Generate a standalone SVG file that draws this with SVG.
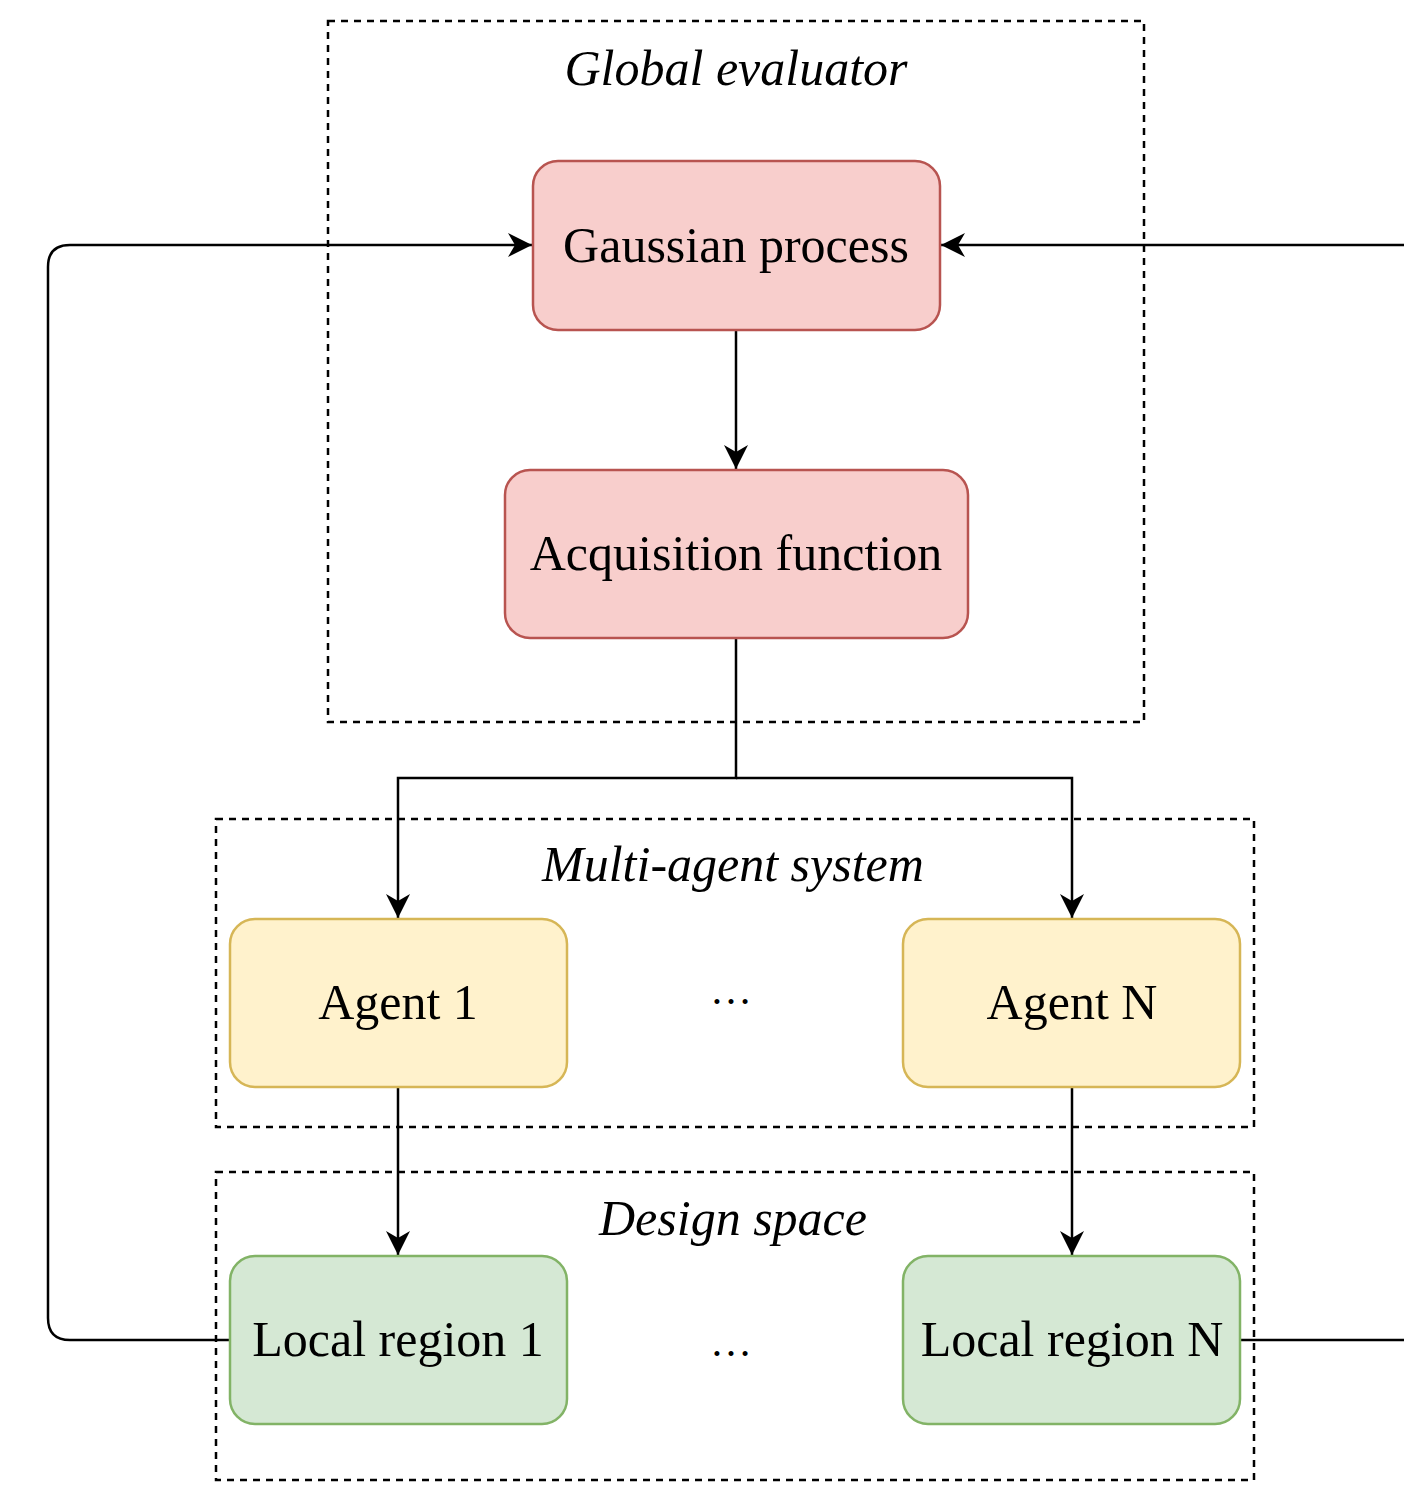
<svg xmlns="http://www.w3.org/2000/svg" width="1404" height="1486" viewBox="0 0 1404 1486">
<style>
.grp{fill:none;stroke:#000;stroke-width:2.5;stroke-dasharray:7 6}
.red{fill:#f8cecc;stroke:#b85450;stroke-width:2.5}
.yel{fill:#fff2cc;stroke:#d6b656;stroke-width:2.5}
.grn{fill:#d5e8d4;stroke:#82b366;stroke-width:2.5}
.lbl{font-family:"Liberation Serif","Times New Roman",serif;font-size:50px;fill:#000;text-anchor:middle}
.dots{font-family:"Liberation Serif","Times New Roman",serif;font-size:42px;fill:#000;text-anchor:middle}
.it{font-style:italic}
.edge{fill:none;stroke:#000;stroke-width:2.5}
</style>
<defs>
<marker id="arr" markerUnits="userSpaceOnUse" markerWidth="26" markerHeight="26" viewBox="0 0 26 26" refX="24" refY="13" orient="auto">
<path d="M0,1 L24,13 L0,25 L7,13 Z" fill="#000"/>
</marker>
</defs>
<rect width="1404" height="1486" fill="#fff"/>
<g id="global-evaluator">
<rect class="grp" x="328" y="21" width="816" height="701"/>
<text class="lbl it" x="736" y="85">Global evaluator</text>
</g>
<g id="multi-agent-system">
<rect class="grp" x="216" y="819" width="1038" height="308"/>
<text class="lbl it" x="733" y="881">Multi-agent system</text>
<text class="dots" x="731" y="1004">…</text>
</g>
<g id="design-space">
<rect class="grp" x="216" y="1172" width="1038" height="308"/>
<text class="lbl it" x="733" y="1235">Design space</text>
<text class="dots" x="731" y="1356">…</text>
</g>
<g id="connectors">
<path class="edge" d="M736,330 V469" marker-end="url(#arr)"/>
<path class="edge" d="M736,638 V778 H398 V918" marker-end="url(#arr)"/>
<path class="edge" d="M736,778 H1072 V918" marker-end="url(#arr)"/>
<path class="edge" d="M398,1087 V1255" marker-end="url(#arr)"/>
<path class="edge" d="M1072,1087 V1255" marker-end="url(#arr)"/>
<path class="edge" d="M230,1340 H70 Q48,1340 48,1318 V267 Q48,245 70,245 H532" marker-end="url(#arr)"/>
<path class="edge" d="M1240,1340 H1402 Q1424,1340 1424,1318 V267 Q1424,245 1402,245 H941" marker-end="url(#arr)"/>
</g>
<g id="gaussian-process">
<rect class="red" x="533" y="161" width="407" height="169" rx="25"/>
<text class="lbl" x="736" y="262">Gaussian process</text>
</g>
<g id="acquisition-function">
<rect class="red" x="505" y="470" width="463" height="168" rx="25"/>
<text class="lbl" x="736" y="570">Acquisition function</text>
</g>
<g id="agent-1">
<rect class="yel" x="230" y="919" width="337" height="168" rx="25"/>
<text class="lbl" x="398" y="1019">Agent 1</text>
</g>
<g id="agent-n">
<rect class="yel" x="903" y="919" width="337" height="168" rx="25"/>
<text class="lbl" x="1072" y="1019">Agent N</text>
</g>
<g id="local-region-1">
<rect class="grn" x="230" y="1256" width="337" height="168" rx="25"/>
<text class="lbl" x="398" y="1356">Local region 1</text>
</g>
<g id="local-region-n">
<rect class="grn" x="903" y="1256" width="337" height="168" rx="25"/>
<text class="lbl" x="1072" y="1356">Local region N</text>
</g>
</svg>
